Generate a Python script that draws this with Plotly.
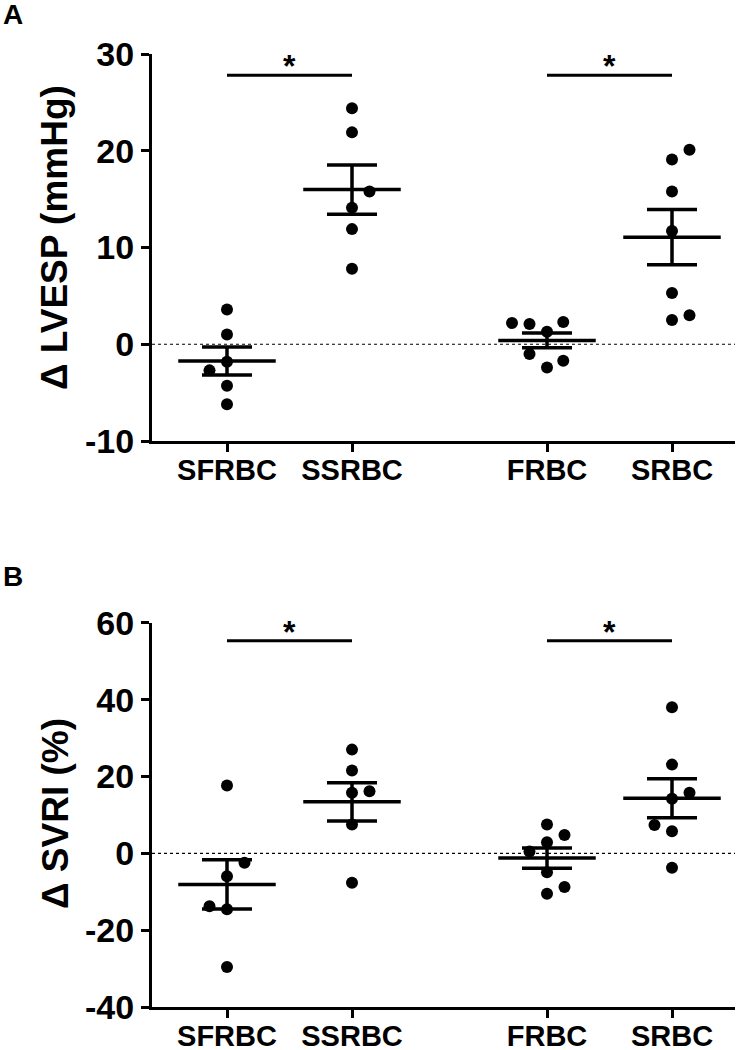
import numpy as np
import plotly.graph_objects as go

# ---------------- data ----------------
categories = ["SFRBC", "SSRBC", "FRBC", "SRBC"]

# Panel A: delta LVESP (mmHg)
lvesp_sfrbc = [3.6, 1.0, -1.8, -2.7, -4.3, -6.2]
lvesp_ssrbc = [24.4, 21.9, 15.8, 14.1, 11.9, 7.8]
lvesp_frbc = [2.2, 2.1, 2.3, 1.3, -1.0, -2.4, -1.7]
lvesp_srbc = [19.1, 20.1, 15.8, 11.7, 5.3, 2.5, 3.0]

# Panel B: delta SVRI (%)
svri_sfrbc = [17.7, -2.4, -5.9, -13.7, -14.5, -29.5]
svri_ssrbc = [27.0, 21.6, 15.8, 16.2, 7.5, -7.6]
svri_frbc = [7.5, 4.8, 2.9, 0.5, -4.9, -10.5, -8.7]
svri_srbc = [38.0, 23.1, 15.8, 14.2, 7.4, 5.8, -3.7]

ticks_a = [-10, 0, 10, 20, 30]
ticks_b = [-40, -20, 0, 20, 40, 60]

# ---------------- layout helpers (positions / styles) ----------------
group_pos = [1.0, 2.0, 3.56, 4.56]
jit_a = [
    [0, 0, 0, -0.14, 0, 0],
    [0, 0, 0.14, 0, 0, 0],
    [-0.28, -0.14, 0.13, 0, -0.14, 0, 0.13],
    [0, 0.14, 0, 0, 0, 0, 0.14],
]
jit_b = [
    [0, 0.14, 0, -0.14, 0, 0],
    [0, 0, 0, 0.14, 0, 0],
    [0, 0.14, 0, -0.14, 0, 0, 0.14],
    [0, 0, 0.14, 0, -0.14, 0, 0],
]
FONT = "Liberation Sans"
W, H = 737, 1050

fig = go.Figure()


def add_panel(groups, jits, xa, ya):
    for pos, vals, jit in zip(group_pos, groups, jits):
        v = np.array(vals, dtype=float)
        fig.add_trace(go.Scatter(
            x=[pos + j for j in jit], y=v, mode="markers",
            marker=dict(color="black", size=12),
            xaxis=xa, yaxis=ya, showlegend=False, hoverinfo="y"))
        m = v.mean()
        s = v.std(ddof=1) / np.sqrt(len(v))
        xs = [pos - 0.39, pos + 0.39, None,
              pos, pos, None,
              pos - 0.2, pos + 0.2, None,
              pos - 0.2, pos + 0.2]
        ys = [m, m, None,
              m - s, m + s, None,
              m + s, m + s, None,
              m - s, m - s]
        fig.add_trace(go.Scatter(
            x=xs, y=ys, mode="lines", line=dict(color="black", width=3.5),
            xaxis=xa, yaxis=ya, showlegend=False, hoverinfo="skip"))


add_panel([lvesp_sfrbc, lvesp_ssrbc, lvesp_frbc, lvesp_srbc], jit_a, "x", "y")
add_panel([svri_sfrbc, svri_ssrbc, svri_frbc, svri_srbc], jit_b, "x2", "y2")

# significance bars
sig_a, sig_b = 27.8, 55.3
for xa, ya, yv in [("x", "y", sig_a), ("x2", "y2", sig_b)]:
    for p0, p1 in [(group_pos[0], group_pos[1]), (group_pos[2], group_pos[3])]:
        fig.add_trace(go.Scatter(
            x=[p0, p1], y=[yv, yv], mode="lines",
            line=dict(color="black", width=3), xaxis=xa, yaxis=ya,
            showlegend=False, hoverinfo="skip"))
        fig.add_annotation(x=(p0 + p1) / 2, y=yv, xref=xa, yref=ya,
                           text="*", showarrow=False, yanchor="bottom", yshift=-11,
                           font=dict(family=FONT, size=32, color="black", weight=700))

# dotted zero lines
for ya in ["y", "y2"]:
    xr = "x domain" if ya == "y" else "x2 domain"
    fig.add_shape(type="line", xref=xr, yref=ya, x0=0, x1=1, y0=0, y1=0,
                  line=dict(color="black", width=1.2, dash="dot"), layer="below")

xr = [0.4, 5.064]
xdom = [152 / W, 735 / W]
ydom_a = [1 - 441 / H, 1 - 54 / H]
ydom_b = [1 - 1007.3 / H, 1 - 622.7 / H]

xaxis_common = dict(
    range=xr, domain=xdom, tickmode="array", tickvals=group_pos, ticktext=categories,
    ticks="outside", ticklen=8, tickwidth=3, tickcolor="black", automargin=False,
    ticklabelstandoff=-7,
    showline=True, linewidth=3, linecolor="black", showgrid=False, zeroline=False,
    tickfont=dict(family=FONT, size=29, color="black", weight=700), fixedrange=True)
yaxis_common = dict(
    ticks="outside", ticklen=8, tickwidth=3, tickcolor="black", automargin=False,
    showline=True, linewidth=3, linecolor="black", showgrid=False, zeroline=False,
    tickfont=dict(family=FONT, size=34, color="black", weight=700), fixedrange=True)

fig.update_layout(
    template="none",
    width=W, height=H,
    margin=dict(l=0, r=0, t=0, b=0, pad=0, autoexpand=False),
    paper_bgcolor="white", plot_bgcolor="white",
    xaxis=dict(anchor="y", **xaxis_common),
    xaxis2=dict(anchor="y2", **xaxis_common),
    yaxis=dict(anchor="x", domain=ydom_a, range=[-10, 30], tickmode="array",
               tickvals=ticks_a, ticktext=[str(t) for t in ticks_a], **yaxis_common),
    yaxis2=dict(anchor="x2", domain=ydom_b, range=[-40, 60], tickmode="array",
                tickvals=ticks_b, ticktext=[str(t) for t in ticks_b], **yaxis_common),
)

# axis titles and panel letters
title_font = dict(family=FONT, size=37, color="black", weight=700)
fig.add_annotation(xref="paper", yref="paper", x=54 / W, y=1 - 238 / H,
                   text="Δ LVESP (mmHg)", textangle=-90, showarrow=False,
                   xanchor="center", yanchor="middle", font=title_font)
fig.add_annotation(xref="paper", yref="paper", x=55 / W, y=1 - 813 / H,
                   text="Δ SVRI (%)", textangle=-90, showarrow=False,
                   xanchor="center", yanchor="middle", font=title_font)
letter_font = dict(family=FONT, size=28, color="black", weight=700)
fig.add_annotation(xref="paper", yref="paper", x=13 / W, y=1 - 15 / H, text="A",
                   showarrow=False, xanchor="center", yanchor="middle", font=letter_font)
fig.add_annotation(xref="paper", yref="paper", x=13 / W, y=1 - 576 / H, text="B",
                   showarrow=False, xanchor="center", yanchor="middle", font=letter_font)

fig.write_html(
    "out.html",
    config={"displayModeBar": False},
    post_script="document.body.style.margin='0';document.body.style.padding='0';"
                "document.documentElement.style.overflow='hidden';",
)
